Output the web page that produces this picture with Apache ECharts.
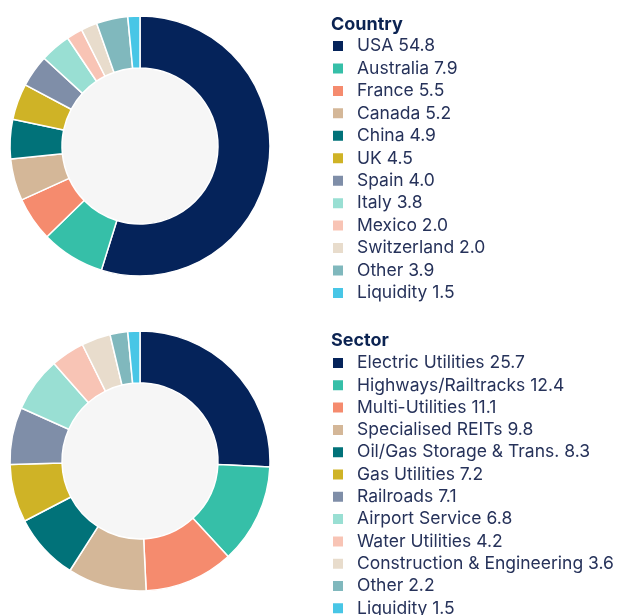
<!DOCTYPE html>
<html><head><meta charset="utf-8">
<script src="https://cdn.jsdelivr.net/npm/echarts@6/dist/echarts.min.js"></script>
<style>html,body{margin:0;padding:0;background:#fff}#c{width:620px;height:615px}</style>
</head><body><div id="c"></div>
<script>
const countryNames = ['USA','Australia','France','Canada','China','UK','Spain','Italy','Mexico','Switzerland','Other','Liquidity'];
const countryValues = [54.8,7.9,5.5,5.2,4.9,4.5,4.0,3.8,2.0,2.0,3.9,1.5];
const sectorNames = ['Electric Utilities','Highways/Railtracks','Multi-Utilities','Specialised REITs','Oil/Gas Storage & Trans.','Gas Utilities','Railroads','Airport Service','Water Utilities','Construction & Engineering','Other','Liquidity'];
const sectorValues = [25.7,12.4,11.1,9.8,8.3,7.2,7.1,6.8,4.2,3.6,2.2,1.5];
const palette = ['#05235a','#36bfa8','#f58b6e','#d4b798','#017279','#cfb326','#7f8ea8','#99dfd3','#f8c4b5','#e8dccc','#80b8bd','#48c6e6'];

const chart = echarts.init(document.getElementById('c'), null, {renderer:'canvas'});
const FONT = 'Inter, "Noto Sans", sans-serif';
function mk(names, vals){ return names.map((n,i)=>({name:n, value:vals[i], itemStyle:{color:palette[i]}})); }
const cMap = {}; countryNames.forEach((n,i)=>cMap[n]=countryValues[i].toFixed(1));
const sMap = {}; sectorNames.forEach((n,i)=>sMap[n]=sectorValues[i].toFixed(1));
function legend(top, gap, names, map){
  return {
    orient:'vertical', left:326, top: top, height:400, itemWidth:12, itemHeight:12, itemGap:gap,
    icon:'rect', selectedMode:false,
    data: names,
    formatter: n => n + ' ' + map[n],
    textStyle:{fontFamily:FONT, fontSize:17.5, color:'#26325a', lineHeight:20, padding:[0,0,0,8]}
  };
}
function pie(cy, names, vals){
  return {
    type:'pie', center:[140, cy], radius:[78,130], startAngle:90, clockwise:true,
    avoidLabelOverlap:false, label:{show:false}, labelLine:{show:false}, silent:true,
    itemStyle:{borderColor:'#fff', borderWidth:1.5},
    data: mk(names, vals)
  };
}
chart.setOption({
  animation:false,
  title:[
    {text:'Country', left:326, top:11, textStyle:{fontFamily:FONT, fontSize:18, fontWeight:'bold', color:'#0b2352'}},
    {text:'Sector', left:326, top:327, textStyle:{fontFamily:FONT, fontSize:18, fontWeight:'bold', color:'#0b2352'}}
  ],
  legend:[ legend(31, 2.45, countryNames, cMap), legend(348, 2.3, sectorNames, sMap) ],
  graphic:[
    {type:'circle', shape:{cx:140, cy:146, r:78}, style:{fill:'#f6f6f6'}, z:-1, silent:true},
    {type:'circle', shape:{cx:140, cy:461, r:78}, style:{fill:'#f6f6f6'}, z:-1, silent:true}
  ],
  series:[ pie(146, countryNames, countryValues), pie(461, sectorNames, sectorValues) ]
});
</script></body></html>
